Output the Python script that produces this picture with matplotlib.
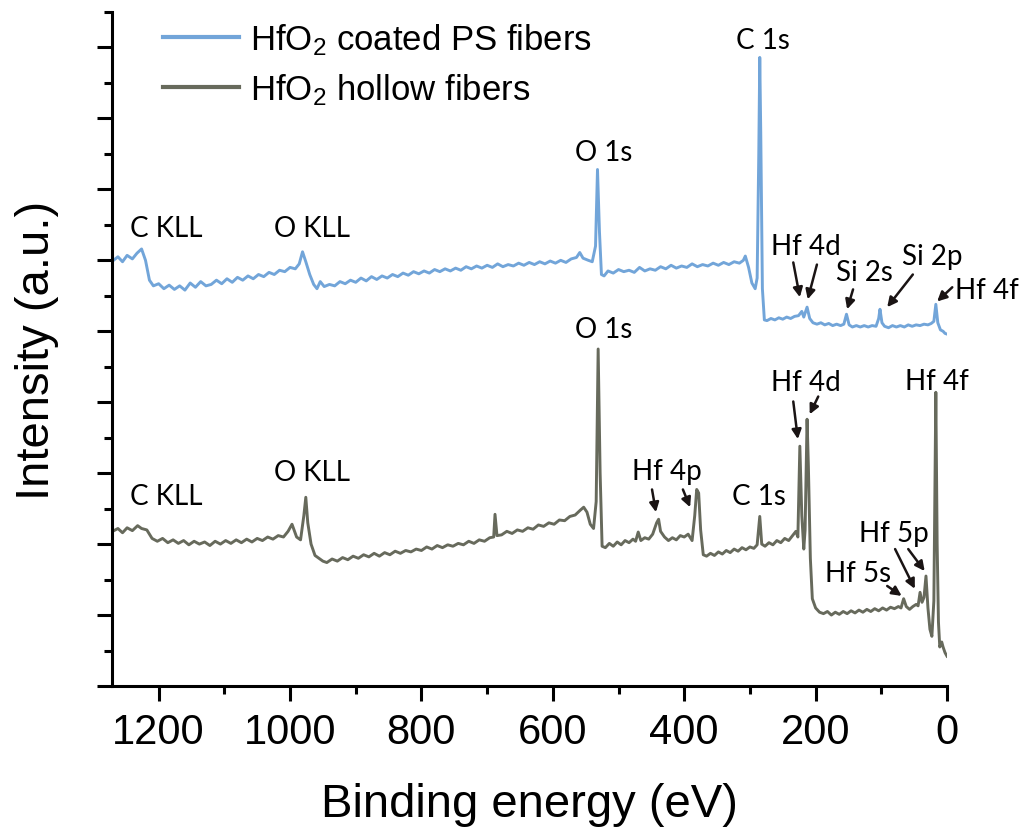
import matplotlib
matplotlib.use("Agg")
import matplotlib.pyplot as plt
from matplotlib.ticker import MultipleLocator

plt.rcParams['font.family'] = ['Liberation Sans', 'DejaVu Sans']
plt.rcParams['mathtext.default'] = 'regular'

# survey spectra (binding energy in eV, intensity in arbitrary offset units)
coated_ev = [1270, 1262, 1255, 1248, 1240, 1233, 1226, 1220, 1214, 1208, 1200, 1192, 1184, 1176,
             1168, 1160, 1152, 1144, 1136, 1128, 1120, 1112, 1104, 1096, 1088, 1080, 1072, 1064,
             1056, 1048, 1040, 1032, 1024, 1016, 1008, 1000, 992, 986, 981, 976, 970, 964, 959,
             954, 948, 940, 932, 924, 916, 908, 900, 892, 884, 876, 868, 860, 852, 844, 836, 828,
             820, 812, 804, 796, 788, 780, 772, 764, 756, 748, 740, 732, 724, 716, 708, 700, 692,
             684, 676, 668, 660, 652, 644, 636, 628, 620, 612, 604, 596, 588, 580, 572, 564, 559,
             554, 546, 540, 535, 532, 529, 526, 522, 516, 508, 500, 492, 484, 476, 468, 460, 452,
             444, 436, 428, 420, 412, 404, 396, 388, 380, 372, 364, 356, 348, 340, 332, 324, 316,
             310, 307, 302, 297, 292, 289, 286.5, 285, 283.5, 281, 278, 274, 268, 262, 256, 250,
             244, 238, 232, 226, 221, 218, 213, 209, 204, 198, 192, 186, 180, 174, 168, 162, 157,
             153, 149, 144, 138, 132, 126, 120, 114, 108, 104, 102, 99, 95, 89, 83, 77, 71, 65, 59,
             53, 47, 41, 35, 29, 24, 20, 17, 14, 10, 6, 3, 0]
coated_int = [5.99, 6.05, 5.98, 6.07, 6.02, 6.10, 6.16, 6.00, 5.72, 5.64, 5.67, 5.60, 5.65, 5.59,
              5.64, 5.58, 5.68, 5.62, 5.70, 5.64, 5.66, 5.72, 5.67, 5.74, 5.69, 5.76, 5.72, 5.78,
              5.74, 5.80, 5.77, 5.83, 5.80, 5.86, 5.84, 5.90, 5.88, 5.95, 6.12, 5.98, 5.80, 5.66, 5.60,
              5.70, 5.63, 5.66, 5.64, 5.70, 5.67, 5.72, 5.69, 5.75, 5.71, 5.77, 5.73, 5.78, 5.75, 5.80,
              5.77, 5.82, 5.79, 5.84, 5.81, 5.85, 5.82, 5.87, 5.84, 5.88, 5.85, 5.89, 5.86, 5.91, 5.88,
              5.92, 5.89, 5.93, 5.90, 5.95, 5.91, 5.94, 5.92, 5.96, 5.93, 5.97, 5.94, 5.98, 5.95, 5.99,
              5.96, 6.00, 5.97, 6.02, 6.04, 6.11, 6.03, 6.00, 5.98, 6.20, 7.28, 6.40, 5.80, 5.78, 5.85,
              5.82, 5.87, 5.84, 5.86, 5.83, 5.90, 5.85, 5.88, 5.86, 5.91, 5.88, 5.93, 5.89, 5.92, 5.90,
              5.95, 5.91, 5.94, 5.92, 5.96, 5.93, 5.97, 5.94, 5.98, 5.96, 6.00, 6.06, 5.90, 5.68, 5.60,
              5.75, 7.50, 8.86, 7.80, 5.60, 5.16, 5.15, 5.18, 5.16, 5.19, 5.17, 5.20, 5.18, 5.21, 5.22,
              5.28, 5.20, 5.34, 5.18, 5.12, 5.10, 5.12, 5.09, 5.11, 5.08, 5.10, 5.08, 5.10, 5.24, 5.09,
              5.06, 5.08, 5.06, 5.08, 5.06, 5.08, 5.07, 5.18, 5.31, 5.12, 5.07, 5.05, 5.08, 5.06, 5.08,
              5.06, 5.09, 5.07, 5.09, 5.08, 5.10, 5.09, 5.11, 5.14, 5.38, 5.12, 5.02, 5.00, 4.97, 4.96]

hollow_ev = [1270, 1262, 1255, 1248, 1240, 1232, 1226, 1218, 1210, 1202, 1194, 1186, 1178, 1170,
             1162, 1154, 1146, 1138, 1130, 1122, 1114, 1106, 1098, 1090, 1082, 1074, 1066, 1058,
             1050, 1042, 1034, 1026, 1018, 1010, 1003, 997, 990, 984, 979, 976, 973, 968, 962, 956,
             950, 944, 936, 928, 920, 912, 904, 896, 888, 880, 872, 864, 856, 848, 840, 832, 824,
             816, 808, 800, 792, 784, 776, 768, 760, 752, 744, 736, 728, 720, 712, 704, 696, 690,
             688, 685, 678, 670, 662, 654, 646, 638, 630, 622, 614, 606, 598, 590, 582, 574, 566,
             558, 553, 548, 543, 538, 534, 531, 528, 525, 520, 514, 508, 502, 496, 490, 484, 478,
             474, 470, 466, 460, 454, 448, 442, 439, 436, 430, 424, 418, 412, 406, 400, 394, 388,
             384, 381, 378, 375, 371, 366, 360, 354, 348, 342, 336, 330, 324, 318, 312, 306, 300,
             294, 289, 285, 282, 277, 271, 265, 259, 253, 247, 241, 235, 230, 227, 224, 221, 218,
             216, 213, 211, 208, 205, 200, 194, 188, 182, 176, 170, 164, 158, 152, 146, 140, 134,
             128, 122, 116, 110, 104, 98, 92, 86, 80, 74, 70, 66, 62, 57, 52, 47, 44, 41, 38, 35,
             32, 29, 26, 23, 20, 17, 15, 13, 11, 8, 6, 3, 0]
hollow_int = [2.18, 2.22, 2.16, 2.23, 2.19, 2.26, 2.22, 2.20, 2.08, 2.04, 2.08, 2.02, 2.06, 2.01,
              2.05, 1.99, 2.04, 2.00, 2.03, 1.98, 2.04, 2.00, 2.05, 2.01, 2.06, 2.02, 2.07, 2.03,
              2.08, 2.05, 2.10, 2.07, 2.12, 2.10, 2.18, 2.28, 2.10, 2.06, 2.40, 2.66, 2.30, 2.00,
              1.84, 1.80, 1.76, 1.74, 1.79, 1.76, 1.81, 1.78, 1.83, 1.80, 1.85, 1.82, 1.87, 1.83,
              1.88, 1.85, 1.90, 1.87, 1.91, 1.89, 1.93, 1.91, 1.96, 1.93, 1.98, 1.95, 1.99, 1.97,
              2.01, 1.99, 2.04, 2.01, 2.06, 2.04, 2.09, 2.10, 2.42, 2.12, 2.13, 2.18, 2.15, 2.20,
              2.18, 2.23, 2.21, 2.27, 2.25, 2.30, 2.28, 2.34, 2.33, 2.39, 2.41, 2.48, 2.52, 2.45,
              2.28, 2.22, 2.60, 4.75, 3.00, 1.97, 1.95, 2.01, 1.97, 2.03, 1.99, 2.05, 2.02, 2.07,
              2.04, 2.17, 2.05, 2.09, 2.07, 2.14, 2.30, 2.35, 2.18, 2.10, 2.05, 2.09, 2.06, 2.12,
              2.10, 2.14, 2.05, 2.40, 2.77, 2.72, 2.20, 1.85, 1.83, 1.87, 1.84, 1.89, 1.86, 1.91,
              1.88, 1.93, 1.90, 1.95, 1.92, 1.96, 1.94, 1.99, 2.39, 2.00, 1.97, 2.02, 1.99, 2.05,
              2.02, 2.08, 2.05, 2.12, 2.18, 2.10, 3.38, 2.40, 1.93, 2.20, 3.76, 3.10, 1.80, 1.23,
              1.10, 1.04, 1.02, 1.05, 1.00, 1.04, 1.01, 1.05, 1.02, 1.06, 1.03, 1.07, 1.04, 1.08,
              1.05, 1.09, 1.06, 1.10, 1.07, 1.11, 1.09, 1.12, 1.10, 1.23, 1.12, 1.08, 1.12, 1.15,
              1.13, 1.32, 1.18, 1.25, 1.55, 1.10, 0.80, 0.70, 1.20, 4.14, 2.00, 0.90, 0.55, 0.62,
              0.55, 0.47, 0.42]

coated_label = 'HfO$_2$ coated PS fibers'
hollow_label = 'HfO$_2$ hollow fibers'

# peak labels: (text, x, y) and arrows: (tail x, tail y, head x, head y)
coated_peaks = [('C KLL', 1189, 6.46), ('O KLL', 967, 6.46), ('O 1s', 522, 7.52),
                ('C 1s', 280, 9.11), ('Hf 4d', 215, 6.20), ('Si 2s', 125, 5.83),
                ('Si 2p', 23, 6.06), ('Hf 4f', -61, 5.58)]
coated_arrows = [(234, 5.97, 224, 5.48), (198, 5.94, 212, 5.45), (143, 5.59, 152, 5.31),
                 (52, 5.80, 91, 5.34), (-8, 5.62, 15, 5.42)]
hollow_peaks = [('C KLL', 1189, 2.68), ('O KLL', 967, 3.01), ('O 1s', 522, 5.03),
                ('Hf 4p', 426, 3.03), ('C 1s', 286, 2.68), ('Hf 4d', 215, 4.28),
                ('Hf 4f', 15, 4.30), ('Hf 5p', 81, 2.15), ('Hf 5s', 135, 1.59)]
hollow_arrows = [(449, 2.77, 443, 2.45), (402, 2.77, 391, 2.52), (234, 4.01, 227, 3.48),
                 (196, 4.08, 209, 3.83), (79, 1.93, 49, 1.37), (59, 1.93, 34, 1.62),
                 (91, 1.41, 69, 1.27)]

fig = plt.figure(figsize=(10.22, 8.28), dpi=100)
ax = fig.add_axes([112/1022, 1 - 687/828, (947 - 112)/1022, (687 - 13)/828])

ax.plot(coated_ev, coated_int, color='#72a5d9', lw=2.1, label=coated_label)
ax.plot(hollow_ev, hollow_int, color='#676a5c', lw=2.1, label=hollow_label)

for txt, x, y in coated_peaks + hollow_peaks:
    ax.text(x, y, txt, family=['Lato', 'DejaVu Sans'], fontsize=20, ha='center', va='center',
            clip_on=False)
for x0, y0, x1, y1 in coated_arrows + hollow_arrows:
    ax.annotate('', xy=(x1, y1), xytext=(x0, y0), annotation_clip=False,
                arrowprops=dict(arrowstyle='-|>', color='#1a1414', lw=1.8, mutation_scale=14,
                                shrinkA=0, shrinkB=0))

ax.set_xlim(1271, 0)
ax.set_ylim(0, 9.5)
ax.xaxis.set_major_locator(MultipleLocator(200))
ax.xaxis.set_minor_locator(MultipleLocator(100))
ax.yaxis.set_major_locator(MultipleLocator(1))
ax.yaxis.set_minor_locator(MultipleLocator(0.5))
ax.set_yticklabels([])

for s in ['top', 'right']:
    ax.spines[s].set_visible(False)
for s in ['left', 'bottom']:
    ax.spines[s].set_linewidth(2.2)
ax.tick_params(which='major', direction='out', length=10.5, width=2.2, labelsize=30, pad=8)
ax.tick_params(which='minor', direction='out', length=5.5, width=2.2)

ax.set_xlabel('Binding energy (eV)', fontsize=34, labelpad=22)
ax.set_ylabel('Intensity (a.u.)', fontsize=34, labelpad=20)

leg = ax.legend(loc='upper left', bbox_to_anchor=(163/1022, 1 - 22/828),
                bbox_transform=fig.transFigure, frameon=False, fontsize=25,
                handlelength=2.2, handletextpad=0.3, labelspacing=0.42,
                borderpad=0, borderaxespad=0)
for line in leg.get_lines():
    line.set_linewidth(3)

fig.savefig('out.png', dpi=100)
